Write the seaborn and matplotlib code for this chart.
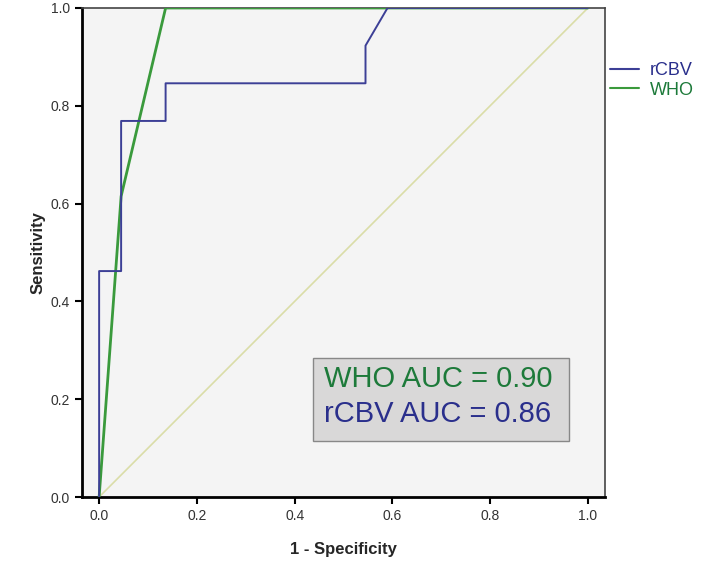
"""ROC curve: WHO grade vs rCBV."""
import numpy as np
import pandas as pd
import matplotlib
matplotlib.use('Agg')
import matplotlib.pyplot as plt
from matplotlib.patches import Rectangle
from matplotlib.lines import Line2D
import seaborn as sns

# ROC coordinates
RCBV_FPR = [0.0, 0.0, 0.045, 0.045, 0.136, 0.136, 0.545, 0.545, 0.59, 1.0]
RCBV_TPR = [0.0, 0.462, 0.462, 0.769, 0.769, 0.846, 0.846, 0.923, 1.0, 1.0]
WHO_FPR = [0.0, 0.045, 0.136, 1.0]
WHO_TPR = [0.0, 0.615, 1.0, 1.0]
TICKS = [0.0, 0.2, 0.4, 0.6, 0.8, 1.0]
AUC_WHO = 0.90
AUC_RCBV = 0.86

BLUE = "#3c3f96"
GREEN = "#3a9a3c"
BLUE_TXT = "#2a2f8c"
GREEN_TXT = "#1d7a3a"

sns.set_theme(style="white")
plt.rcParams['font.family'] = ['Liberation Sans', 'DejaVu Sans']

fig = plt.figure(figsize=(7.17, 5.66), dpi=100)
ax = fig.add_axes([0.1144, 0.1219, 0.8438 - 0.1144, 0.9859 - 0.1219])
ax.set_facecolor("#f4f4f4")

df = pd.concat([
    pd.DataFrame({"fpr": RCBV_FPR, "tpr": RCBV_TPR, "curve": "rCBV"}),
    pd.DataFrame({"fpr": WHO_FPR, "tpr": WHO_TPR, "curve": "WHO"}),
])

# reference diagonal
ax.plot([0, 1], [0, 1], color="#dadda8", linewidth=1.2, zorder=1)
sns.lineplot(data=df[df.curve == "WHO"], x="fpr", y="tpr", color=GREEN,
             sort=False, estimator=None, linewidth=2.0, ax=ax, zorder=3)
sns.lineplot(data=df[df.curve == "rCBV"], x="fpr", y="tpr", color=BLUE,
             sort=False, estimator=None, linewidth=1.4, ax=ax, zorder=4)

ax.set_xlim(-0.035, 1.035)
ax.set_ylim(0, 1)
ax.set_xticks(TICKS)
ax.set_yticks(TICKS)
ax.set_xticklabels([f"{t:.1f}" for t in TICKS], fontsize=10, color="#333333")
ax.set_yticklabels([f"{t:.1f}" for t in TICKS], fontsize=10, color="#333333")
ax.tick_params(axis="both", direction="out", length=5, width=1.5, color="black", bottom=True, left=True)
ax.set_xlabel("1 - Specificity", fontsize=12, fontweight="bold", labelpad=14)
ax.set_ylabel("Sensitivity", fontsize=12, fontweight="bold", labelpad=4)

for side in ["left", "bottom"]:
    ax.spines[side].set_color("black")
    ax.spines[side].set_linewidth(2)
for side in ["top", "right"]:
    ax.spines[side].set_color("#444444")
    ax.spines[side].set_linewidth(1.2)

# AUC box
ax.add_patch(Rectangle((0.437, 0.115), 0.524, 0.169, facecolor="#d9d8d8",
                       edgecolor="#888888", linewidth=1, zorder=5))
ax.text(0.461, 0.241, f"WHO AUC = {AUC_WHO:.2f}", fontsize=21, color=GREEN_TXT,
        va="center", ha="left", zorder=6)
ax.text(0.461, 0.170, f"rCBV AUC = {AUC_RCBV:.2f}", fontsize=21, color=BLUE_TXT,
        va="center", ha="left", zorder=6)

# legend outside right
handles = [Line2D([0], [0], color=BLUE, lw=1.5), Line2D([0], [0], color=GREEN, lw=1.5)]
fig.legend(handles, ["rCBV", "WHO"], loc="center left", bbox_to_anchor=(0.828, 0.858),
           frameon=False, fontsize=13, handlelength=1.6, handletextpad=0.6,
           labelspacing=0.15, labelcolor=[BLUE_TXT, GREEN_TXT])

plt.savefig("out.png", dpi=100)
plt.close()
